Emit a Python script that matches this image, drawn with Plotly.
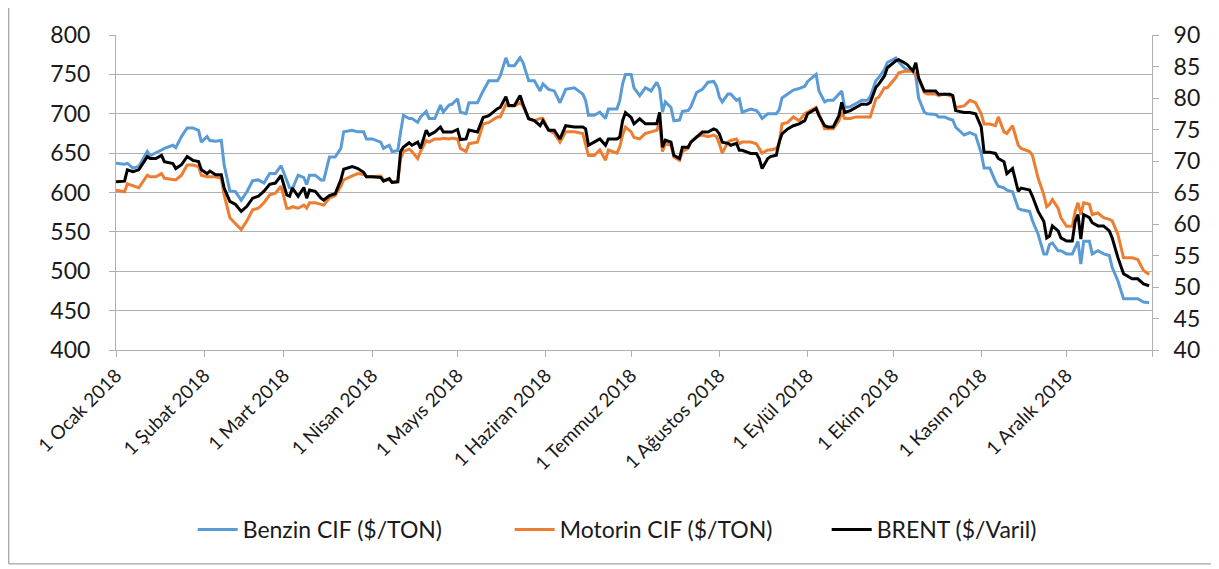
import plotly.graph_objects as go
import pandas as pd

# day offsets from 1 Jan 2018
DAYS = [0, 3, 4, 6, 8, 11, 12, 14, 16, 17, 20, 21, 23, 25, 27, 29, 30, 32, 33, 35, 37, 38, 40, 42, 44, 46, 48, 50, 52, 54, 56, 58,
        60, 61, 62, 64, 66, 67, 68, 70, 72, 73, 75, 77, 79, 80, 83, 85, 87, 88, 90, 93, 94, 96, 97, 99, 100, 101, 103, 104, 106, 107, 109, 110, 112, 114, 115, 117, 118, 120, 121,
        123, 124, 127, 129, 131, 134, 135, 137, 138, 140, 142, 143, 145, 147, 149, 150, 152, 154, 156, 158, 161, 164, 165, 166, 168, 170, 172, 173, 176, 177, 178, 179, 181, 182, 184,
        186, 188, 190, 191, 192, 193, 195, 196, 198, 199, 201, 202, 204, 206, 208, 210, 211, 212, 213, 215, 216, 218, 219, 220, 223, 225, 226, 227, 229, 230, 232, 233, 234, 236, 238, 240, 242, 243, 246,
        247, 249, 250, 252, 254, 255, 256, 258, 260, 262, 264, 265, 267, 268, 270, 271, 274, 275, 277, 278, 280, 281, 282, 284, 285, 288, 289, 291, 293, 294, 295, 298, 300, 302, 304, 305, 307,
        309, 310, 312, 313, 315, 317, 318, 321, 322, 324, 326, 327, 328, 329, 331, 332, 334, 336, 337, 338, 339, 340, 342, 343, 345, 347, 349, 350, 352, 354, 357, 359, 361, 363]

benzin = [637, 636, 637, 631, 633, 652, 647, 650, 654, 656, 660, 657, 671, 682, 682, 679, 664, 671, 666, 665, 666, 635, 602, 601, 590, 601, 615, 616, 612, 624, 624, 634,
          614, 606, 605, 622, 619, 610, 622, 622, 616, 616, 645, 645, 656, 677, 679, 677, 677, 668, 668, 664, 656, 660, 652, 653, 677, 698, 694, 694, 689, 696, 703, 694, 694, 711, 702, 711, 712, 719, 702,
          700, 714, 714, 729, 742, 742, 748, 771, 761, 761, 771, 765, 742, 742, 729, 738, 731, 729, 714, 731, 733, 725, 717, 698, 698, 702, 694, 706, 706, 717, 738, 750, 750, 733, 723,
          733, 729, 740, 732, 702, 715, 708, 691, 692, 703, 704, 709, 727, 731, 740, 741, 735, 721, 715, 725, 725, 717, 719, 702, 706, 704, 700, 694, 700, 700, 700, 705, 720, 725, 730, 732, 735, 741, 750,
          729, 715, 717, 717, 725, 729, 708, 709, 713, 717, 717, 722, 742, 746, 756, 765, 771, 766, 758, 756, 754, 748, 720, 702, 700, 699, 696, 696, 693, 692, 683, 673, 676, 673, 650, 631, 631,
          614, 608, 606, 603, 601, 580, 578, 576, 564, 547, 522, 522, 534, 536, 526, 526, 522, 522, 530, 538, 509, 538, 538, 522, 526, 522, 520, 505, 488, 465, 465, 465, 461, 460]

motorin = [603, 601, 611, 608, 606, 622, 620, 620, 624, 618, 616, 616, 622, 635, 635, 633, 622, 620, 620, 620, 618, 597, 568, 561, 553, 564, 578, 580, 587, 597, 599, 608,
           580, 580, 582, 580, 584, 580, 587, 587, 585, 584, 593, 596, 608, 616, 621, 624, 623, 620, 620, 621, 616, 616, 613, 614, 643, 652, 655, 652, 643, 652, 666, 664, 668, 668, 669, 668, 669, 668, 656,
           652, 662, 664, 687, 689, 696, 696, 712, 710, 710, 714, 710, 694, 691, 694, 694, 679, 675, 664, 677, 677, 675, 660, 647, 647, 654, 641, 654, 650, 658, 673, 683, 677, 670, 668,
           675, 677, 679, 689, 652, 662, 660, 645, 641, 652, 656, 664, 671, 673, 671, 673, 671, 662, 650, 664, 666, 668, 662, 664, 664, 662, 656, 650, 654, 654, 656, 662, 687, 689, 696, 691, 700, 702, 708,
           700, 681, 681, 681, 691, 702, 694, 694, 696, 696, 696, 696, 719, 721, 733, 733, 746, 752, 754, 754, 754, 750, 744, 727, 725, 725, 723, 725, 723, 721, 708, 710, 717, 714, 700, 687, 687,
           685, 696, 677, 675, 685, 660, 656, 652, 647, 618, 597, 582, 585, 591, 580, 568, 557, 557, 576, 587, 572, 587, 585, 572, 574, 568, 566, 564, 547, 517, 517, 515, 501, 496]

brent = [66.7, 66.8, 68.6, 68.3, 68.6, 70.7, 70.4, 70.4, 70.9, 69.9, 69.6, 68.8, 69.4, 70.7, 70.1, 69.9, 68.6, 68.0, 68.4, 67.8, 67.8, 65.7, 63.6, 63.1, 62.0, 62.8, 64.1, 64.4, 65.2, 66.3, 66.5, 67.7,
         64.6, 64.4, 65.7, 64.4, 65.8, 64.1, 65.4, 65.2, 64.1, 63.8, 64.5, 64.8, 67.0, 68.7, 69.1, 68.8, 68.2, 67.5, 67.5, 67.4, 66.8, 67.2, 66.6, 66.7, 71.5, 72.2, 72.9, 72.5, 73.0, 72.0, 74.9, 74.1, 74.6, 75.4, 74.6, 74.6, 74.6, 75.0, 73.4,
         73.5, 74.9, 74.6, 76.9, 77.2, 78.3, 78.5, 80.2, 78.8, 78.8, 80.4, 79.0, 76.7, 76.4, 75.6, 76.4, 74.9, 74.9, 73.5, 75.6, 75.4, 75.4, 75.1, 72.5, 73.0, 73.5, 72.5, 73.5, 73.5, 73.8, 76.4, 77.7, 76.9, 75.9, 76.7,
         75.9, 75.9, 75.9, 77.7, 72.2, 73.3, 73.0, 70.9, 70.4, 72.2, 72.2, 73.0, 73.8, 74.6, 74.6, 75.1, 74.9, 74.3, 73.0, 72.8, 72.5, 72.8, 71.7, 71.7, 71.2, 71.2, 70.4, 68.8, 70.4, 70.7, 70.9, 73.0, 74.3, 75.1, 75.6, 75.9, 76.4, 77.5, 78.3,
         77.2, 75.6, 75.4, 75.4, 77.2, 79.3, 77.7, 78.0, 78.5, 79.0, 79.0, 79.3, 81.7, 82.2, 83.5, 84.8, 85.9, 86.1, 85.6, 85.3, 84.3, 85.6, 83.2, 81.1, 81.1, 81.1, 80.6, 80.6, 80.6, 80.4, 78.0, 77.7, 77.7, 77.5, 75.4, 71.4, 71.4,
         71.2, 70.4, 69.9, 68.0, 68.8, 65.2, 65.7, 65.4, 64.4, 62.0, 60.4, 57.8, 58.1, 59.7, 58.9, 57.8, 57.3, 57.3, 60.4, 61.5, 57.6, 61.5, 61.0, 60.2, 59.7, 59.7, 58.9, 57.8, 54.7, 52.1, 51.3, 51.3, 50.5, 50.2]

month_ticks = ["2018-01-01", "2018-02-01", "2018-03-01", "2018-04-01", "2018-05-01", "2018-06-01",
               "2018-07-01", "2018-08-01", "2018-09-01", "2018-10-01", "2018-11-01", "2018-12-01", "2018-12-31"]
month_labels = ["1 Ocak 2018", "1 Şubat 2018", "1 Mart 2018", "1 Nisan 2018", "1 Mayıs 2018", "1 Haziran 2018",
                "1 Temmuz 2018", "1 Ağustos 2018", "1 Eylül 2018", "1 Ekim 2018", "1 Kasım 2018", "1 Aralık 2018", ""]

dates = pd.Timestamp("2018-01-01") + pd.to_timedelta(DAYS, unit="D")

FONT = "Lato, Calibri, sans-serif"
GRID = "#b0b0b0"
TXT = "#1a1a1a"

fig = go.Figure()

fig.add_trace(go.Scatter(x=dates, y=benzin, mode="lines", name="Benzin CIF ($/TON)",
                         line=dict(color="#5b9bd5", width=3)))
fig.add_trace(go.Scatter(x=dates, y=motorin, mode="lines", name="Motorin CIF ($/TON)",
                         line=dict(color="#ed7d31", width=3)))
fig.add_trace(go.Scatter(x=dates, y=brent, mode="lines", name="BRENT ($/Varil)",
                         line=dict(color="#000000", width=3), yaxis="y2"))

# chart-area border (left, bottom, right), in paper units of the plot area
fig.add_shape(type="path", xref="paper", yref="paper",
              path="M -0.1035,1.2 L -0.1035,-0.679 L 1.0589,-0.679 L 1.0589,1.2",
              line=dict(color="#8c8c8c", width=1), layer="above")

# the page body adds an 8px offset, so the figure is 8px smaller than the window
fig.update_layout(
    width=1211, height=561,
    margin=dict(l=108, r=67, t=24, b=219),
    paper_bgcolor="white", plot_bgcolor="white",
    font=dict(family=FONT, color=TXT),
    showlegend=True,
    legend=dict(orientation="h", x=0.533, y=-0.57, xanchor="center", yanchor="middle",
                font=dict(size=23, family=FONT, color=TXT), itemwidth=40, entrywidth=262),
    xaxis=dict(
        type="date", range=["2018-01-01", "2018-12-31"],
        tickmode="array", tickvals=month_ticks, ticktext=month_labels,
        tickangle=-45, tickfont=dict(size=19, family=FONT, color=TXT),
        ticks="outside", ticklen=6, tickcolor=GRID,
        showline=True, linecolor=GRID, linewidth=1, showgrid=False, zeroline=False,
    ),
    yaxis=dict(
        range=[400, 800], dtick=50, tick0=400,
        tickfont=dict(size=23, family=FONT, color=TXT),
        ticks="outside", ticklen=6, tickcolor=GRID, ticklabelstandoff=14,
        showline=True, linecolor=GRID, linewidth=1,
        showgrid=True, gridcolor=GRID, gridwidth=1, zeroline=False,
    ),
    yaxis2=dict(
        range=[40, 90], dtick=5, tick0=40, overlaying="y", side="right",
        tickfont=dict(size=23, family=FONT, color=TXT),
        ticks="outside", ticklen=6, tickcolor=GRID, ticklabelstandoff=10,
        showline=True, linecolor=GRID, linewidth=1, showgrid=False, zeroline=False,
    ),
)

fig.write_html("out.html")
